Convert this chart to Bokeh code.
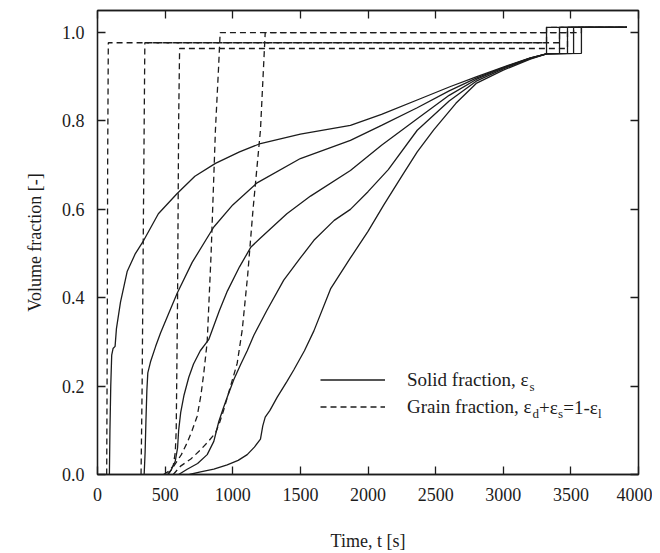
from bokeh.plotting import figure
from bokeh.models import (LinearAxis, FixedTicker, PrintfTickFormatter, Legend,
                          LegendItem, Label, Range1d)
from bokeh.embed import file_html
from bokeh.resources import INLINE

# ---------------- data ----------------
x_ticks = [0, 500, 1000, 1500, 2000, 2500, 3000, 3500, 4000]
y_ticks = [0.0, 0.2, 0.4, 0.6, 0.8, 1.0]

# solid fraction curves
s1_t = [88, 92, 98, 105, 115, 130, 140, 170, 220, 280, 342, 450, 589, 720, 872, 1050,
        1205, 1500, 1870, 2100, 2400, 2610, 2800, 3000, 3200, 3320, 3320, 3915]
s1_v = [0.0, 0.10, 0.20, 0.27, 0.285, 0.29, 0.33, 0.39, 0.46, 0.50, 0.53, 0.59, 0.636,
        0.675, 0.704, 0.73, 0.749, 0.77, 0.79, 0.815, 0.852, 0.878, 0.900, 0.922, 0.943,
        0.952, 1.012, 1.012]

s2_t = [345, 352, 358, 365, 372, 392, 430, 466, 520, 589, 700, 860, 1000, 1180, 1500,
        1870, 2100, 2364, 2600, 2800, 3000, 3200, 3320, 3416, 3416, 3915]
s2_v = [0.0, 0.05, 0.12, 0.19, 0.23, 0.255, 0.29, 0.32, 0.36, 0.41, 0.48, 0.56, 0.61,
        0.66, 0.715, 0.756, 0.79, 0.83, 0.868, 0.897, 0.921, 0.942, 0.952, 0.953, 1.012,
        1.012]

s3_t = [520, 545, 575, 592, 600, 615, 640, 675, 710, 760, 822, 900, 960, 1050, 1135,
        1205, 1400, 1575, 1870, 2100, 2364, 2600, 2800, 3000, 3200, 3320, 3475, 3475, 3915]
s3_v = [0.0, 0.01, 0.03, 0.06, 0.10, 0.14, 0.18, 0.22, 0.25, 0.28, 0.305, 0.37, 0.415,
        0.47, 0.515, 0.535, 0.59, 0.63, 0.688, 0.745, 0.805, 0.858, 0.894, 0.92, 0.942,
        0.952, 0.953, 1.012, 1.012]

s4_t = [600, 663, 740, 811, 860, 897, 930, 959, 1008, 1060, 1107, 1156, 1250, 1377, 1500,
        1600, 1750, 1870, 2000, 2150, 2364, 2600, 2800, 3000, 3200, 3320, 3520, 3520, 3915]
s4_v = [0.0, 0.012, 0.025, 0.045, 0.075, 0.12, 0.15, 0.175, 0.215, 0.25, 0.28, 0.315,
        0.37, 0.44, 0.49, 0.53, 0.575, 0.60, 0.64, 0.69, 0.779, 0.845, 0.89, 0.918, 0.941,
        0.952, 0.953, 1.012, 1.012]

s5_t = [680, 762, 860, 959, 1040, 1107, 1160, 1205, 1222, 1240, 1275, 1329, 1400, 1452,
        1530, 1600, 1723, 1870, 2000, 2117, 2250, 2364, 2486, 2650, 2800, 3000, 3200, 3320,
        3578, 3578, 3915]
s5_v = [0.0, 0.006, 0.012, 0.022, 0.032, 0.045, 0.062, 0.08, 0.11, 0.13, 0.145, 0.175,
        0.21, 0.237, 0.28, 0.325, 0.42, 0.49, 0.55, 0.61, 0.675, 0.73, 0.78, 0.84, 0.885,
        0.915, 0.94, 0.952, 0.953, 1.012, 1.012]

# grain fraction curves
d1_t = [68, 72, 75, 80, 3320, 3320, 3915]
d1_v = [0.0, 0.3, 0.7, 0.977, 0.977, 1.012, 1.012]

d2_t = [322, 330, 340, 350, 3416, 3416, 3915]
d2_v = [0.0, 0.2, 0.6, 0.977, 0.977, 1.012, 1.012]

d3_t = [488, 530, 560, 575, 582, 592, 600, 607, 3475, 3475, 3915]
d3_v = [0.0, 0.008, 0.02, 0.05, 0.1, 0.4, 0.8, 0.964, 0.964, 1.012, 1.012]

d4_t = [520, 564, 620, 663, 700, 737, 765, 786, 811, 840, 872, 895, 907, 3520, 3520, 3915]
d4_v = [0.0, 0.019, 0.045, 0.072, 0.1, 0.132, 0.18, 0.23, 0.30, 0.5, 0.78, 0.92, 1.0, 1.0,
        1.012, 1.012]

d5_t = [560, 614, 690, 762, 820, 872, 900, 934, 983, 1033, 1070, 1110, 1150, 1205, 1240,
        3578, 3578, 3915]
d5_v = [0.0, 0.019, 0.035, 0.056, 0.075, 0.094, 0.115, 0.147, 0.199, 0.252, 0.327, 0.45,
        0.6, 0.78, 1.0, 1.0, 1.012, 1.012]

solid_series = [(s1_t, s1_v), (s2_t, s2_v), (s3_t, s3_v), (s4_t, s4_v), (s5_t, s5_v)]
grain_series = [(d1_t, d1_v), (d2_t, d2_v), (d3_t, d3_v), (d4_t, d4_v), (d5_t, d5_v)]

legend_solid = "Solid fraction, \u03b5"
legend_grain = "Grain fraction, \u03b5"

# ---------------- styling ----------------
FONT = "Liberation Serif"
INK = "#1c1c1c"
LW = 1.3

p = figure(width=652, height=553, x_range=Range1d(0, 4000), y_range=Range1d(0, 1.05),
           output_backend="svg", toolbar_location=None,
           min_border_left=97, min_border_right=14, min_border_top=10, min_border_bottom=78)
p.background_fill_color = "white"
p.border_fill_color = "white"
p.grid.visible = False
p.outline_line_color = INK
p.outline_line_width = LW

solid_r = []
for t, v in solid_series:
    solid_r.append(p.line(t, v, line_color=INK, line_width=LW))
grain_r = []
for t, v in grain_series:
    grain_r.append(p.line(t, v, line_color=INK, line_width=LW, line_dash="6 4"))

def style_axis(ax, ticks, show_labels=True):
    ax.ticker = FixedTicker(ticks=ticks)
    ax.axis_line_color = INK
    ax.axis_line_width = LW
    ax.major_tick_line_color = INK
    ax.major_tick_line_width = LW
    ax.major_tick_in = 8
    ax.major_tick_out = 0
    ax.minor_tick_line_color = None
    ax.major_label_text_font = FONT
    ax.major_label_text_color = INK
    ax.axis_label_text_font = FONT
    ax.axis_label_text_font_style = "normal"
    ax.axis_label_text_color = INK
    if show_labels:
        ax.major_label_text_font_size = "18px"
        ax.axis_label_text_font_size = "18px"
    else:
        ax.major_label_text_font_size = "1px"
        ax.major_label_text_color = None
        ax.major_label_standoff = 0

xb = p.xaxis[0]
style_axis(xb, x_ticks)
xb.axis_label = "Time, t [s]"
xb.major_label_standoff = 13
xb.axis_label_standoff = 27

yl = p.yaxis[0]
style_axis(yl, y_ticks)
yl.formatter = PrintfTickFormatter(format="%.1f")
yl.axis_label = "Volume fraction [-]"
yl.major_label_standoff = 13
yl.axis_label_standoff = 14

xt = LinearAxis()
style_axis(xt, x_ticks, show_labels=False)
p.add_layout(xt, "above")
yr = LinearAxis()
style_axis(yr, y_ticks, show_labels=False)
p.add_layout(yr, "right")

legend = Legend(items=[LegendItem(label=legend_solid, renderers=[solid_r[0]]),
                       LegendItem(label=legend_grain, renderers=[grain_r[0]])],
                location=(223, 54), glyph_width=65, glyph_height=27, label_height=27,
                label_standoff=22, padding=0, margin=0, spacing=0,
                border_line_color=None, background_fill_alpha=0,
                label_text_font=FONT, label_text_font_size="19px",
                label_text_color=INK)
p.add_layout(legend)

# subscripts and the rest of the legend formulas (pixel offsets from frame origin)
def piece(text, dx, dy, size):
    p.add_layout(Label(x=0, y=0, x_offset=dx, y_offset=dy, text=text,
                       text_font=FONT, text_font_size=size, text_color=INK,
                       text_baseline="middle", text_align="left"))

r1 = 54 + 27 + 13.5
r2 = 54 + 13.5
piece("s", 432, r1 - 6, "13px")
piece("d", 435, r2 - 6, "13px")
piece("+\u03b5", 441.5, r2, "19px")
piece("s", 460.6, r2 - 6, "13px")
piece("=1-\u03b5", 465.7, r2, "19px")
piece("l", 500.6, r2 - 6, "13px")

open("out.html", "w").write(file_html(p, INLINE))
